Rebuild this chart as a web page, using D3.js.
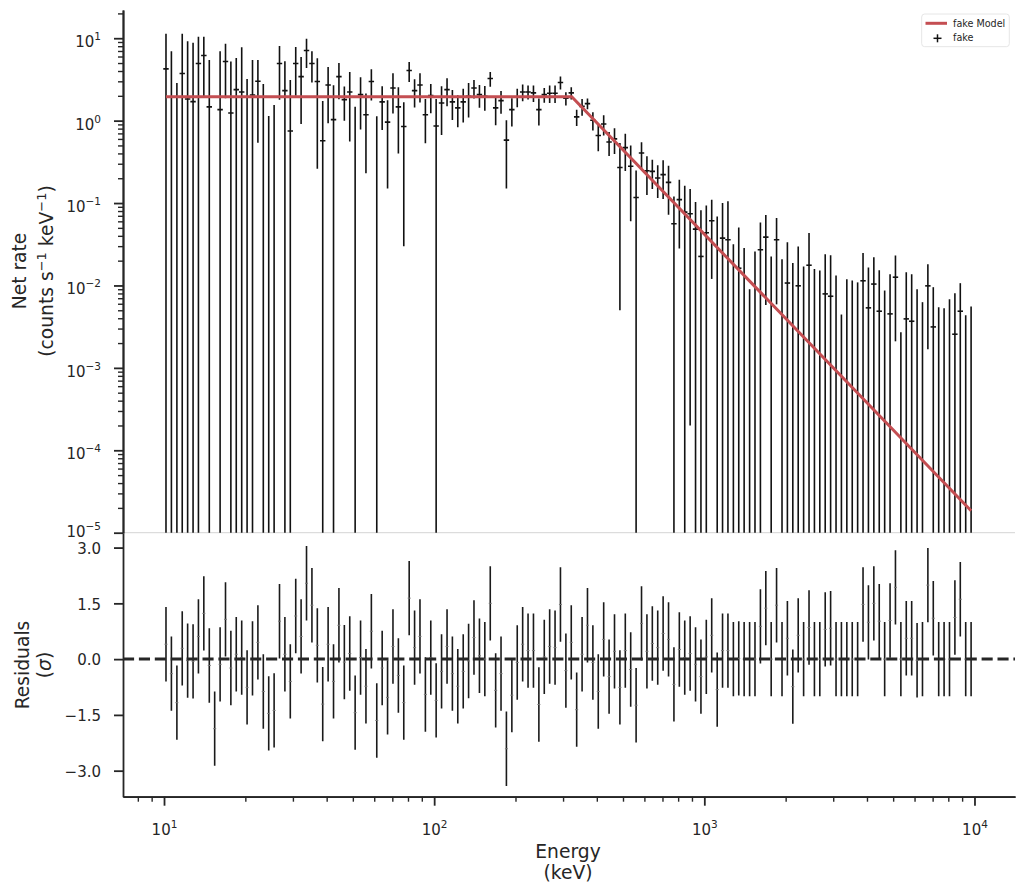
<!DOCTYPE html>
<html>
<head>
<meta charset="utf-8">
<script src="https://cdn.jsdelivr.net/npm/d3@7"></script>
<style>
  body { margin: 0; background: #fff; }
  text { font-family: "DejaVu Sans", sans-serif; fill: #262626; }
</style>
</head>
<body>
<div id="chart"></div>
<script>
// channel energies (keV), one per bin
const energy = [
  10.17, 10.65, 11.16, 11.68, 12.23, 12.81, 13.41, 14.04, 14.71, 15.40,
  16.13, 16.89, 17.68, 18.51, 19.39, 20.30, 21.26, 22.26, 23.31, 24.41,
  25.56, 26.76, 28.02, 29.34, 30.73, 32.17, 33.69, 35.28, 36.94, 38.68,
  40.50, 42.41, 44.41, 46.51, 48.70, 50.99, 53.40, 55.91, 58.55, 61.31,
  64.20, 67.22, 70.39, 73.71, 77.18, 80.82, 84.63, 88.61, 92.79, 97.16,
  101.7, 106.5, 111.6, 116.8, 122.3, 128.1, 134.1, 140.4, 147.1, 154.0,
  161.3, 168.9, 176.8, 185.1, 193.9, 203.0, 212.6, 222.6, 233.1, 244.1,
  255.6, 267.6, 280.2, 293.4, 307.3, 321.7, 336.9, 352.8, 369.4, 386.8,
  405.0, 424.1, 444.1, 465.1, 487.0, 509.9, 533.9, 559.1, 585.5, 613.1,
  642.0, 672.2, 703.9, 737.1, 771.8, 808.2, 846.3, 886.1, 927.9, 971.6,
  1017, 1065, 1116, 1168, 1223, 1281, 1341, 1404, 1471, 1540,
  1613, 1689, 1768, 1851, 1939, 2030, 2126, 2226, 2331, 2441,
  2556, 2676, 2802, 2934, 3073, 3217, 3369, 3528, 3694, 3868,
  4050, 4241, 4441, 4651, 4870, 5099, 5340, 5591, 5855, 6131,
  6420, 6722, 7039, 7371, 7718, 8082, 8463, 8861, 9279, 9716
];

// net rate (null where the rate is not positive, so no marker shows)
const rate = [
  4.25, null, null, 3.73, 1.83, 1.70, 4.93, 6.17, 1.47, null,
  1.36, 5.21, 1.24, 2.38, 2.23, null, 2.05, 3.0, null, null,
  null, 4.93, 2.31, 0.75, 4.93, 3.42, 7.09, 4.93, 2.98, 0.57,
  2.71, 1.03, 3.42, 1.8, 2.23, null, 2.07, 1.18, 2.98, null,
  1.69, 0.96, 2.49, 1.47, 0.85, 4.05, 2.31, 2.71, 1.18, 2.01,
  0.86, 1.64, 2.38, 1.69, 1.43, 1.69, 1.98, 2.49, 2.07, 1.98,
  3.24, 1.43, 1.75, 0.58, 1.36, 1.94, 2.23, 2.23, 2.17, 1.36,
  2.07, 2.15, 2.15, 2.90, 1.87, 2.17, 1.11, 1.49, 1.61, 1.01,
  0.66, 0.91, 0.55, 0.60, 0.27, 0.47, 0.28, 0.117, 0.405, 0.247,
  0.242, 0.201, 0.221, 0.178, 0.056, 0.110, 0.0776, 0.0741, 0.0483, 0.0225,
  0.0436, 0.061, null, 0.0375, 0.0358, null, 0.0162, null, null, null,
  0.0271, 0.0386, null, 0.0358, null, 0.0107, null, 0.0099, null, 0.0176,
  null, null, 0.0079, 0.0074, null, null, null, null, null, 0.0114,
  0.00535, 0.0104, 0.00487, null, 0.00452, 0.0126, null, 0.00393, 0.00368, null,
  null, 0.00989, 0.00314, null, null, null, 0.00256, 0.00487, null, null
];

// upper end of each error bar (null where the whole bar lies below the axis)
const rateHigh = [
  11.3, 6.96, 2.87, 11.3, 9.2, 8.79, 10.4, 10.4, 5.46, null,
  6.96, 8.55, 5.21, 5.77, 7.78, 3.21, 5.46, 5.46, 2.79, 1.14,
  1.55, 8.07, 5.26, 3.12, 7.85, 5.93, 9.83, 6.96, 5.7, 1.73,
  4.49, 2.69, 5.02, 2.6, 3.90, 1.47, 3.36, 2.13, 4.20, 1.13,
  2.61, 1.77, 3.76, 2.54, 1.67, 5.16, 3.18, 3.76, 1.83, 2.79,
  1.83, 2.61, 3.27, 2.36, 2.03, 2.43, 2.87, 3.12, 2.71, 2.64,
  3.90, 1.98, 2.29, 1.01, 1.87, 2.43, 2.74, 2.66, 2.66, 1.85,
  2.49, 2.66, 2.66, 3.42, 2.21, 2.54, 1.36, 1.83, 1.85, 1.26,
  0.894, 1.16, 0.728, 0.807, 0.535, 0.695, 0.50, 0.249, 0.545, 0.369,
  0.336, 0.287, 0.33, 0.284, 0.12, 0.192, 0.162, 0.148, 0.103, 0.0815,
  0.0936, 0.11, 0.0688, 0.0999, 0.105, 0.0317, 0.0506, 0.0284, 0.009, 0.0258,
  0.0582, 0.0714, 0.0225, 0.0657, 0.0208, 0.0335, 0.0187, 0.0297, 0.017, 0.0432,
  0.0158, 0.0152, 0.024, 0.0233, 0.0132, 0.00444, 0.0119, 0.0115, 0.0109, 0.0247,
  0.0165, 0.022, 0.0153, 0.00868, 0.0137, 0.0231, 0.0027, 0.0145, 0.0137, 0.009,
  0.00627, 0.0181, 0.00953, 0.00544, 0.0053, 0.0068, 0.00805, 0.01066, 0.00435, 0.00554
];

// residuals in sigma
const residual = [
  0.40, -0.39, -1.17, 0.29, -0.04, -0.06, 0.61, 1.23, -0.17, -1.87,
  -0.14, 1.07, -0.24, 0.13, 0.04, -0.76, 0.02, 0.45, -0.87, -1.46,
  -1.38, 1.02, 0.13, -0.60, 1.16, 0.61, 2.04, 1.45, 0.37, -1.21,
  0.40, -0.60, 0.91, -0.08, 0.15, -1.44, 0.04, -0.73, 0.75, -1.65,
  -0.24, -1.03, 0.34, -0.44, -1.17, 1.64, 0.31, 0.61, -0.95, 0.04,
  -1.11, -0.33, 0.34, -0.39, -0.73, -0.33, -0.05, 0.58, 0.09, 0.00,
  1.50, -0.84, -0.39, -2.41, -0.97, -0.09, 0.40, 0.23, 0.23, -1.22,
  0.06, 0.34, 0.31, 1.47, -0.31, 0.45, -1.36, 0.13, 0.91, -0.09,
  -0.87, 0.53, -0.47, 0.21, -0.76, 0.23, -0.28, -1.24, 0.96, 0.21,
  0.42, 0.31, 0.69, 0.53, -0.68, 0.26, 0.04, 0.15, -0.14, -0.47,
  0.06, 0.64, -0.82, 0.23, 0.23, 0.00, 0.02, 0.00, 0.00, 0.00,
  0.88, 1.37, 0.00, 1.45, 0.00, 0.56, -0.74, 0.64, 0.00, 0.85,
  0.00, 0.00, 0.80, 0.83, 0.00, 0.00, 0.00, 0.00, 0.00, 1.47,
  0.99, 1.50, 1.02, 0.00, 1.04, 1.93, 0.00, 0.56, 0.56, -0.03,
  0.00, 1.99, 1.10, 0.00, 0.00, 0.00, 1.12, 1.61, 0.00, 0.00
];

// fitted model (broken power law vertices)
const modelEnergy = [10.17, 323, 9716];
const modelRate = [1.95, 1.95, 1.85e-5];

const xTickValues = [10, 100, 1000, 10000];
const yTopExponents = [1, 0, -1, -2, -3, -4, -5];
const residTicks = [3.0, 1.5, 0.0, -1.5, -3.0];

var W = 1024, H = 894;
var left = 123, right = 1015, topY = 10, midY = 532.7, bottomY = 796.7;
var ink = "#262626";

var svg = d3.select("#chart").append("svg")
    .attr("width", W)
    .attr("height", H);

var x = d3.scaleLog().domain([7.05, 14125]).range([left, right]);
var yTop = d3.scaleLog().domain([1e-5, 22]).range([midY, topY]);
var yRes = d3.scaleLinear().domain([-3.70, 3.40]).range([bottomY, midY]);

// bin edges from neighbouring channel centres
var edges = energy.map(function(e, i) {
  var prev = i > 0 ? energy[i - 1] : e * e / energy[1];
  var next = i < energy.length - 1 ? energy[i + 1] : e * e / energy[i - 1];
  return [Math.sqrt(prev * e), Math.sqrt(e * next)];
});
var idx = energy.map(function(e, i) { return i; });

svg.append("clipPath").attr("id", "clipTop")
  .append("rect").attr("x", left).attr("y", topY).attr("width", right - left).attr("height", midY - topY);
svg.append("clipPath").attr("id", "clipRes")
  .append("rect").attr("x", left).attr("y", midY).attr("width", right - left).attr("height", bottomY - midY);

// faint separator between the panels
svg.append("line")
  .attr("x1", left).attr("x2", right)
  .attr("y1", midY).attr("y2", midY)
  .style("stroke", "#d4d4d4").style("stroke-width", 1);

// ---- top panel: data
var upper = svg.append("g").attr("clip-path", "url(#clipTop)");

upper.selectAll("line.err")
  .data(idx.filter(function(i) { return rateHigh[i] != null; }))
  .enter().append("line")
    .attr("class", "err")
    .attr("x1", function(i) { return x(energy[i]); })
    .attr("x2", function(i) { return x(energy[i]); })
    .attr("y1", function(i) {
      var lo = rate[i] != null ? 2 * rate[i] - rateHigh[i] : 0;
      return lo > 1e-5 ? yTop(lo) : midY + 5;
    })
    .attr("y2", function(i) { return yTop(rateHigh[i]); })
    .style("stroke", "#111")
    .style("stroke-width", 1.6);

upper.selectAll("line.pt")
  .data(idx.filter(function(i) { return rate[i] != null; }))
  .enter().append("line")
    .attr("class", "pt")
    .attr("x1", function(i) { return x(edges[i][0]); })
    .attr("x2", function(i) { return x(edges[i][1]); })
    .attr("y1", function(i) { return yTop(rate[i]); })
    .attr("y2", function(i) { return yTop(rate[i]); })
    .style("stroke", "#111")
    .style("stroke-width", 1.6);

var modelLine = d3.line()
  .x(function(d) { return x(d[0]); })
  .y(function(d) { return yTop(d[1]); });

upper.append("path")
  .datum(modelEnergy.map(function(e, i) { return [e, modelRate[i]]; }))
  .attr("d", modelLine)
  .style("fill", "none")
  .style("stroke", "#c44e52")
  .style("stroke-width", 3);

// ---- residual panel
var lower = svg.append("g").attr("clip-path", "url(#clipRes)");

lower.selectAll("line.rerr")
  .data(residual)
  .enter().append("line")
    .attr("class", "rerr")
    .attr("x1", function(d, i) { return x(energy[i]); })
    .attr("x2", function(d, i) { return x(energy[i]); })
    .attr("y1", function(d) { return yRes(d - 1); })
    .attr("y2", function(d) { return yRes(d + 1); })
    .style("stroke", "#1a1a1a")
    .style("stroke-width", 1.6);

lower.selectAll("line.rpt")
  .data(residual)
  .enter().append("line")
    .attr("class", "rpt")
    .attr("x1", function(d, i) { return x(energy[i]) - 1.5; })
    .attr("x2", function(d, i) { return x(energy[i]) + 1.5; })
    .attr("y1", function(d) { return yRes(d); })
    .attr("y2", function(d) { return yRes(d); })
    .style("stroke", "#777")
    .style("stroke-width", 1);

lower.append("line")
  .attr("x1", left).attr("x2", right)
  .attr("y1", yRes(0)).attr("y2", yRes(0))
  .style("stroke", ink)
  .style("stroke-width", 3)
  .style("stroke-dasharray", "11.1,4.8");

// ---- axes
function minorLog(lo, hi) {
  var out = [];
  for (var p = Math.floor(Math.log10(lo)); p <= Math.ceil(Math.log10(hi)); p++) {
    for (var m = 2; m <= 9; m++) {
      var v = m * Math.pow(10, p);
      if (v >= lo && v <= hi) out.push(v);
    }
  }
  return out;
}

function styleAxis(g, w) {
  g.attr("font-size", 15).attr("font-family", "DejaVu Sans, sans-serif");
  g.selectAll("path.domain").style("stroke", ink).style("stroke-width", 1.8);
  g.selectAll(".tick line").style("stroke", ink).style("stroke-width", w);
}

function supText(sel, exp) {
  sel.text(null);
  sel.append("tspan").text("10");
  sel.append("tspan")
    .attr("dy", -7)
    .attr("font-size", 10.5)
    .text(exp < 0 ? "\u2212" + (-exp) : String(exp));
}

// top y axis
var gyTopMinor = svg.append("g")
  .attr("transform", "translate(" + left + ",0)")
  .call(d3.axisLeft(yTop).tickValues(minorLog(1e-5, 22)).tickSize(5).tickSizeOuter(0).tickFormat(""));
styleAxis(gyTopMinor, 1.4);

var gyTop = svg.append("g")
  .attr("transform", "translate(" + left + ",0)")
  .call(d3.axisLeft(yTop)
    .tickValues(yTopExponents.map(function(p) { return Math.pow(10, p); }))
    .tickSize(9).tickPadding(13).tickSizeOuter(0));
styleAxis(gyTop, 1.8);
// the lowest label sits right above the residual axis' 3.0, so lift it a little
gyTop.selectAll(".tick text")
  .attr("dy", function(d) { return d < 2e-5 ? 3.5 : 8.5; })
  .each(function(d) { supText(d3.select(this), Math.round(Math.log10(d))); });

// residual y axis
var gyRes = svg.append("g")
  .attr("transform", "translate(" + left + ",0)")
  .call(d3.axisLeft(yRes).tickValues(residTicks).tickSize(9).tickPadding(13).tickSizeOuter(0)
    .tickFormat(function(d) { return d3.format(".1f")(d).replace("-", "\u2212"); }));
styleAxis(gyRes, 1.8);
gyRes.selectAll(".tick text").attr("dy", 5.8);

// x axis
var gxMinor = svg.append("g")
  .attr("transform", "translate(0," + bottomY + ")")
  .call(d3.axisBottom(x).tickValues(minorLog(7.05, 14125)).tickSize(5).tickSizeOuter(0).tickFormat(""));
styleAxis(gxMinor, 1.4);

var gx = svg.append("g")
  .attr("transform", "translate(0," + bottomY + ")")
  .call(d3.axisBottom(x).tickValues(xTickValues).tickSize(9).tickSizeOuter(0));
styleAxis(gx, 1.8);
gx.selectAll(".tick text")
  .attr("y", 38.3)
  .attr("dy", 0)
  .each(function(d) { supText(d3.select(this), Math.round(Math.log10(d))); });

// ---- axis labels
svg.append("text")
  .attr("x", 568).attr("y", 857.5)
  .attr("text-anchor", "middle")
  .attr("font-size", 18.7)
  .text("Energy");
svg.append("text")
  .attr("x", 568).attr("y", 879)
  .attr("text-anchor", "middle")
  .attr("font-size", 18.7)
  .text("(keV)");

svg.append("text")
  .attr("transform", "translate(19,271) rotate(-90)")
  .attr("dy", "0.35em")
  .attr("text-anchor", "middle")
  .attr("font-size", 18.7)
  .text("Net rate");

var yl2 = svg.append("text")
  .attr("transform", "translate(46,271) rotate(-90)")
  .attr("dy", "0.35em")
  .attr("text-anchor", "middle")
  .attr("font-size", 18.7);
yl2.append("tspan").text("(counts s");
yl2.append("tspan").attr("dy", -7).attr("font-size", 13).text("\u22121");
yl2.append("tspan").attr("dy", 7).text(" keV");
yl2.append("tspan").attr("dy", -7).attr("font-size", 13).text("\u22121");
yl2.append("tspan").attr("dy", 7).text(")");

svg.append("text")
  .attr("transform", "translate(22,665) rotate(-90)")
  .attr("dy", "0.35em")
  .attr("text-anchor", "middle")
  .attr("font-size", 18.7)
  .text("Residuals");

var rl2 = svg.append("text")
  .attr("transform", "translate(44,665) rotate(-90)")
  .attr("dy", "0.35em")
  .attr("text-anchor", "middle")
  .attr("font-size", 18.7);
rl2.append("tspan").text("(");
rl2.append("tspan").attr("font-style", "italic").text("\u03c3");
rl2.append("tspan").text(")");

// ---- legend
var legend = svg.append("g");
legend.append("rect")
  .attr("x", 921.7).attr("y", 14)
  .attr("width", 87.6).attr("height", 32.7)
  .attr("rx", 3)
  .style("fill", "#fff")
  .style("fill-opacity", 0.8)
  .style("stroke", "#e6e6e6")
  .style("stroke-width", 1);
legend.append("line")
  .attr("x1", 925.5).attr("x2", 947)
  .attr("y1", 23.3).attr("y2", 23.3)
  .style("stroke", "#c44e52").style("stroke-width", 3);
legend.append("text")
  .attr("x", 953).attr("y", 26.8)
  .attr("font-size", 9.6)
  .text("fake Model");
legend.append("line")
  .attr("x1", 933.5).attr("x2", 941.5)
  .attr("y1", 38.3).attr("y2", 38.3)
  .style("stroke", "#111").style("stroke-width", 1.5);
legend.append("line")
  .attr("x1", 937.5).attr("x2", 937.5)
  .attr("y1", 34.3).attr("y2", 42.3)
  .style("stroke", "#111").style("stroke-width", 1.5);
legend.append("text")
  .attr("x", 953).attr("y", 41.3)
  .attr("font-size", 9.6)
  .text("fake");
</script>
</body>
</html>
